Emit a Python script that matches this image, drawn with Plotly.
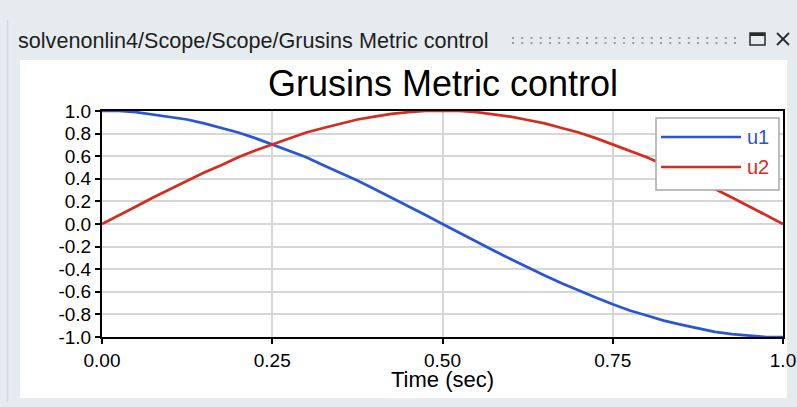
import plotly.graph_objects as go

# Simulation output of the scope block
time_s = [0.000, 0.025, 0.050, 0.075, 0.100, 0.125, 0.150, 0.175, 0.200, 0.225,
          0.250, 0.275, 0.300, 0.325, 0.350, 0.375, 0.400, 0.425, 0.450, 0.475,
          0.500, 0.525, 0.550, 0.575, 0.600, 0.625, 0.650, 0.675, 0.700, 0.725,
          0.750, 0.775, 0.800, 0.825, 0.850, 0.875, 0.900, 0.925, 0.950, 0.975,
          1.000]
u1 = [1.00, 1.00, 0.99, 0.97, 0.95, 0.925, 0.89, 0.85, 0.81, 0.76,
      0.705, 0.65, 0.59, 0.52, 0.455, 0.385, 0.31, 0.235, 0.155, 0.08,
      0.00, -0.08, -0.155, -0.235, -0.31, -0.385, -0.455, -0.525, -0.59, -0.65,
      -0.71, -0.765, -0.81, -0.855, -0.89, -0.925, -0.955, -0.975, -0.99, -1.00,
      -1.00]
u2 = [0.00, 0.075, 0.155, 0.235, 0.31, 0.385, 0.455, 0.52, 0.59, 0.65,
      0.705, 0.76, 0.81, 0.85, 0.89, 0.925, 0.95, 0.975, 0.99, 1.00,
      1.00, 1.00, 0.99, 0.97, 0.95, 0.92, 0.89, 0.85, 0.81, 0.76,
      0.705, 0.65, 0.59, 0.525, 0.455, 0.385, 0.31, 0.235, 0.155, 0.08,
      0.00]

series_names = ["u1", "u2"]
series_colors = ["#2a55d5", "#d22d20"]

x_tickvals = [0.0, 0.25, 0.5, 0.75, 1.0]
x_ticktext = ["0.00", "0.25", "0.50", "0.75", "1.0"]
y_tickvals = [1.0, 0.8, 0.6, 0.4, 0.2, 0.0, -0.2, -0.4, -0.6, -0.8, -1.0]
y_ticktext = ["1.0", "0.8", "0.6", "0.4", "0.2", "0.0",
              "-0.2", "-0.4", "-0.6", "-0.8", "-1.0"]

window_title = "solvenonlin4/Scope/Scope/Grusins Metric control"
plot_title = "Grusins Metric control"
x_label = "Time (sec)"

W, H = 797, 407
ML, MR, MT, MB = 102, 14, 111, 70
PW, PH = W - ML - MR, H - MT - MB
FONT = "Liberation Sans, Arial, sans-serif"
BG = "#e6ebf0"


def px(x):
    return (x - ML) / PW


def py(y):
    return (H - MB - y) / PH


fig = go.Figure()
for name, vals, col in zip(series_names, [u1, u2], series_colors):
    fig.add_trace(go.Scatter(x=time_s, y=vals, mode="lines", name=name,
                             line=dict(color=col, width=2.7), showlegend=False))

shapes = []
# white panel of the scope window
shapes.append(dict(type="rect", xref="paper", yref="paper", layer="below",
                   x0=px(20), x1=px(787), y0=py(398), y1=py(60),
                   fillcolor="white", line=dict(width=0)))
# left window edge
shapes.append(dict(type="line", xref="paper", yref="paper",
                   x0=px(7.5), x1=px(7.5), y0=py(402), y1=py(20),
                   line=dict(color="#d2d8de", width=1.5)))
# grip dots in the title bar
for i in range(25):
    cx = 513 + i * 9.25
    for cy in (38, 43):
        shapes.append(dict(type="rect", xref="paper", yref="paper",
                           x0=px(cx - 1), x1=px(cx + 1), y0=py(cy + 1), y1=py(cy - 1),
                           fillcolor="#9a9ea3", line=dict(width=0)))
# maximize icon
shapes.append(dict(type="rect", xref="paper", yref="paper",
                   x0=px(750), x1=px(765), y0=py(45), y1=py(33),
                   fillcolor="rgba(0,0,0,0)", line=dict(color="#2b2b2b", width=1.5)))
shapes.append(dict(type="line", xref="paper", yref="paper",
                   x0=px(750), x1=px(765), y0=py(34.5), y1=py(34.5),
                   line=dict(color="#2b2b2b", width=3)))
# close icon
shapes.append(dict(type="line", xref="paper", yref="paper",
                   x0=px(777), x1=px(789), y0=py(33), y1=py(45),
                   line=dict(color="#2b2b2b", width=1.8)))
shapes.append(dict(type="line", xref="paper", yref="paper",
                   x0=px(777), x1=px(789), y0=py(45), y1=py(33),
                   line=dict(color="#2b2b2b", width=1.8)))
# legend box
shapes.append(dict(type="rect", xref="paper", yref="paper",
                   x0=px(656), x1=px(779), y0=py(190), y1=py(118),
                   fillcolor="white", line=dict(color="#a8a8a8", width=1.5)))
legend_rows = [137, 167]
for name, col, ly in zip(series_names, series_colors, legend_rows):
    shapes.append(dict(type="line", xref="paper", yref="paper",
                       x0=px(661), x1=px(741), y0=py(ly), y1=py(ly),
                       line=dict(color=col, width=2.7)))

annotations = [
    dict(text=window_title, x=px(16), y=py(40), xref="paper", yref="paper",
         xanchor="left", yanchor="middle", showarrow=False,
         font=dict(family=FONT, size=21.6, color="#1e1e1e")),
    dict(text=plot_title, x=px(442.5), y=py(84), xref="paper", yref="paper",
         xanchor="center", yanchor="middle", showarrow=False,
         font=dict(family=FONT, size=36, color="black")),
    dict(text=x_label, x=px(442.5), y=py(379), xref="paper", yref="paper",
         xanchor="center", yanchor="middle", showarrow=False,
         font=dict(family=FONT, size=22, color="black")),
]
for name, col, ly in zip(series_names, series_colors, legend_rows):
    annotations.append(dict(text=name, x=px(745), y=py(ly), xref="paper", yref="paper",
                            xanchor="left", yanchor="middle", showarrow=False,
                            font=dict(family=FONT, size=20, color=col)))

axis_style = dict(showgrid=True, gridcolor="#d6d6d6", gridwidth=1.5,
                  showline=True, linecolor="black", linewidth=2, mirror=True,
                  ticks="outside", ticklen=5, tickwidth=1.5, tickcolor="black",
                  zeroline=False, automargin=False,
                  tickfont=dict(family=FONT, size=19, color="black"))

fig.update_layout(
    width=W, height=H, autosize=False,
    margin=dict(l=ML, r=MR, t=MT, b=MB),
    paper_bgcolor=BG, plot_bgcolor="white",
    showlegend=False,
    shapes=shapes, annotations=annotations,
    font=dict(family=FONT, size=19, color="black"),
    xaxis=dict(range=[0, 1], tickvals=x_tickvals, ticktext=x_ticktext, **axis_style),
    yaxis=dict(range=[-1, 1], tickvals=y_tickvals, ticktext=y_ticktext, **axis_style),
)

fig.write_html("out.html")
